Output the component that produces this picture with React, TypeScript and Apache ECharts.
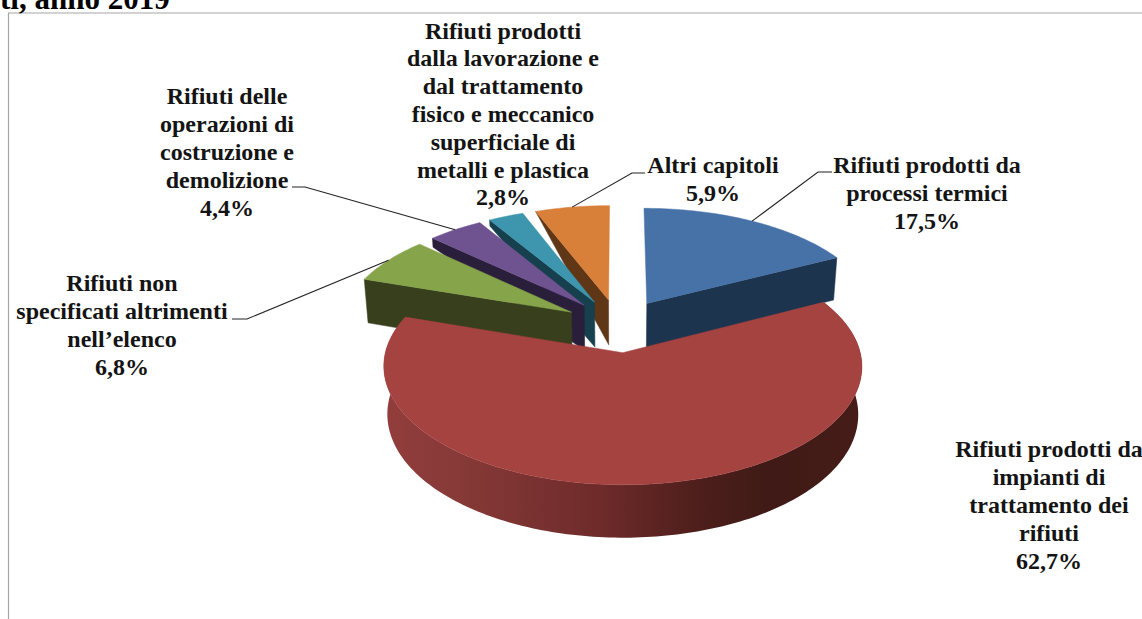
import React, { useEffect, useRef } from "react";
import * as echarts from "echarts";

// ---- data, clockwise from 12 o'clock ----
const names = ["Blu", "Rosso", "Verde", "Viola", "Turchese", "Arancio"];
const values = [17.5, 62.7, 6.8, 4.4, 2.8, 5.9];
const labels = [
  "Rifiuti prodotti da\nprocessi termici",
  "Rifiuti prodotti da\nimpianti di\ntrattamento dei\nrifiuti",
  "Rifiuti non\nspecificati altrimenti\nnell\u2019elenco",
  "Rifiuti delle\noperazioni di\ncostruzione e\ndemolizione",
  "Rifiuti prodotti\ndalla lavorazione e\ndal trattamento\nfisico e meccanico\nsuperficiale di\nmetalli e plastica",
  "Altri capitoli",
];

// ---- styles and layout ----
const topColors = ["#4672A8", "#A54341", "#86A44A", "#6F5390", "#3D96AE", "#D87F3A"];
const sideColors = ["#1D344F", "#6B2A29", "#373F1C", "#2A1F3A", "#17404E", "#5F3716"];
const sideFace = ["end", "none", "start", "start", "start", "start"];
const outerDepthRatio = [1, 1, 1, 0.22, 0.15, 0];
const drawOrder = [5, 4, 3, 2, 0, 1];
const labelCenters = [[927, 193], [1049, 505], [122, 325], [227, 152], [503, 114], [713, 179]];
const leaderElbows: (number[][] | null)[] = [
  [[832, 172], [818, 172]],
  null,
  [[232, 319], [247, 319]],
  [[292, 187], [305, 187]],
  null,
  [[645, 173], [632, 173]],
];
const CX = 618.5, CY = 325.5, RX = 231, RY = 110.5, K = 0.113, EXPLODE = 0.24;
const FONT = '"Liberation Serif", "Times New Roman", serif';

const total = values.reduce((a, b) => a + b, 0);
const angles: number[][] = [];
values.reduce((acc, v, i) => {
  angles[i] = [(acc / total) * 2 * Math.PI, ((acc + v) / total) * 2 * Math.PI];
  return acc + v;
}, 0);

function groundOffset(i: number) {
  const m = (angles[i][0] + angles[i][1]) / 2;
  return [EXPLODE * Math.sin(m), EXPLODE * Math.cos(m)];
}
function project(u: number, v: number) {
  const w = 1 / (1 + K * v);
  return [CX + RX * u * w, CY - RY * v * w];
}
function outerPoint(i: number, t: number) {
  const [ou, ov] = groundOffset(i);
  return { u: ou + Math.sin(t), v: ov + Math.cos(t) };
}
function lower(p: number[], v: number, ratio = 1) {
  const depth = (46 - 5.6 * v) * ratio;
  return [CX + (p[0] - CX) * (1 - 0.015 * ratio), p[1] + depth];
}

function renderSlice(_: any, api: any) {
  const i = api.value(0) as number;
  const [a0, a1] = angles[i];
  const [ou, ov] = groundOffset(i);
  const apex = project(ou, ov);
  const steps = Math.max(4, Math.ceil((a1 - a0) / 0.02));
  const top: number[][] = [apex];
  const bottomArc: number[][] = [];
  for (let s = 0; s <= steps; s++) {
    const t = a0 + ((a1 - a0) * s) / steps;
    const o = outerPoint(i, t);
    const p = project(o.u, o.v);
    top.push(p);
    bottomArc.push(lower(p, o.v));
  }
  const children: any[] = [];
  if (sideFace[i] === "none") {
    const rim = top.slice(1).concat(bottomArc.slice().reverse());
    children.push({
      type: "polygon",
      shape: { points: rim },
      style: {
        fill: new echarts.graphic.LinearGradient(0, 0, 1, 0, [
          { offset: 0, color: "#923D3C" },
          { offset: 0.15, color: "#873A38" },
          { offset: 0.45, color: "#6E2B2A" },
          { offset: 0.65, color: "#4F1F1C" },
          { offset: 0.8, color: "#3F1A16" },
          { offset: 1, color: "#461C18" },
        ]),
      },
    });
  } else {
    const t = sideFace[i] === "start" ? a0 : a1;
    const o = outerPoint(i, t);
    const corner = project(o.u, o.v);
    children.push({
      type: "polygon",
      shape: {
        points: [corner, apex, lower(apex, ov), lower(corner, o.v, outerDepthRatio[i])],
      },
      style: { fill: sideColors[i], stroke: sideColors[i], lineWidth: 0.5 },
    });
  }
  children.push({
    type: "polygon",
    shape: { points: top },
    style: { fill: topColors[i], stroke: topColors[i], lineWidth: 0.5 },
  });
  return { type: "group", children };
}

function renderLabel(_: any, api: any) {
  const i = api.value(0) as number;
  const children: any[] = [];
  const elbow = leaderElbows[i];
  if (elbow) {
    const m = (angles[i][0] + angles[i][1]) / 2;
    const o = outerPoint(i, m);
    const anchor = project(o.u, o.v);
    children.push({
      type: "polyline",
      shape: { points: [...elbow, anchor] },
      style: { fill: "none", stroke: "#222222", lineWidth: 1.1 },
    });
  }
  children.push({
    type: "text",
    style: {
      text: labels[i] + "\n" + values[i].toFixed(1).replace(".", ",") + "%",
      x: labelCenters[i][0],
      y: labelCenters[i][1],
      textAlign: "center",
      textVerticalAlign: "middle",
      fontFamily: FONT,
      fontWeight: "bold",
      fontSize: 24,
      lineHeight: 27.8,
      fill: "#141414",
    },
  });
  return { type: "group", children };
}

export default function App() {
  const ref = useRef<HTMLDivElement>(null);
  useEffect(() => {
    const chart = echarts.init(ref.current!, undefined, { renderer: "svg" });
    chart.setOption({
      animation: false,
      backgroundColor: "#ffffff",
      graphic: [
        {
          type: "polyline",
          shape: { points: [[8.5, 619], [8.5, 13], [1142, 13]] },
          style: { fill: "none", stroke: "#a6a6a6", lineWidth: 1.2 },
        },
        {
          type: "text",
          style: {
            text: "ti, anno 2019",
            x: 0,
            y: 14,
            textVerticalAlign: "bottom",
            fontFamily: FONT,
            fontWeight: "bold",
            fontSize: 31,
            fill: "#000000",
          },
        },
      ],
      series: [
        {
          type: "custom",
          coordinateSystem: "none",
          name: "Fette",
          silent: true,
          data: drawOrder.map((i) => ({ name: names[i], value: [i, values[i]] })),
          renderItem: renderSlice,
        },
        {
          type: "custom",
          coordinateSystem: "none",
          name: "Etichette",
          silent: true,
          z: 5,
          data: values.map((v, i) => ({ name: names[i], value: [i, v] })),
          renderItem: renderLabel,
        },
      ],
    });
    return () => chart.dispose();
  }, []);
  return (
    <div
      ref={ref}
      style={{ position: "absolute", left: 0, top: 0, width: 1142, height: 619, overflow: "hidden" }}
    />
  );
}
